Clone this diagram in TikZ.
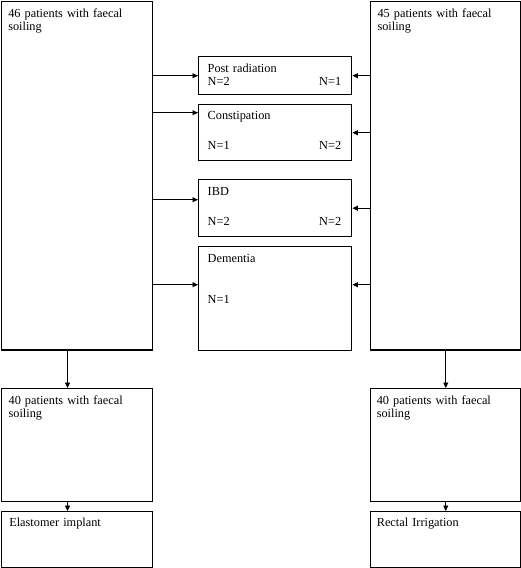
\documentclass[tikz,border=0pt]{standalone}
\usepackage{fontspec}
\setmainfont{Liberation Serif}
\usetikzlibrary{arrows.meta}

\begin{document}
\begin{tikzpicture}[x=1pt,y=-1pt,
    box/.style 2 args={draw,line width=1.4pt,anchor=north west,inner sep=0pt,
        minimum width=#1,minimum height=#2},
    txt/.style={anchor=base west,inner sep=0pt,text width=145pt,align=left,
        font=\fontsize{12.3}{13.6}\selectfont},
    txtr/.style={anchor=base east,inner sep=0pt,font=\fontsize{12.3}{13.6}\selectfont},
    arr/.style={line width=0.9pt,-{Triangle[length=5.5pt,width=5pt]}}]


    \useasboundingbox (0,0) rectangle (521,568);
    %\draw (0,0) rectangle (521,568);

    \pgfmathsetmacro{\xl}{0.8}
    \pgfmathsetmacro{\xm}{198}
    \pgfmathsetmacro{\xr}{370}

    % the two outer columns
    \node[box={151}{348.5}] (left46) at (\xl,0.8) {};
    \node[box={150.2}{348.5}] (right45) at (\xr,0.8) {};
    \node[box={151}{113}] (left40) at (\xl,388) {};
    \node[box={150.2}{113}] (right40) at (\xr,388) {};
    \node[box={151}{56.2}] (elast) at (\xl,511) {};
    \node[box={150.2}{56.2}] (irrig) at (\xr,511) {};

    % the middle column
    \node[box={153}{38}] (postrad) at (\xm,56) {};
    \node[box={153}{56}] (constip) at (\xm,104) {};
    \node[box={153}{57}] (ibd) at (\xm,179) {};
    \node[box={153}{104}] (dement) at (\xm,246) {};

    \node[txt] (t46) at ([shift={(7.3,16.3)}]left46.north west) {46 patients with faecal\\soiling};
    \node[txt] (t45) at ([shift={(7.3,16.3)}]right45.north west) {45 patients with faecal\\soiling};
    \node[txt] (t40l) at ([shift={(7.6,16)}]left40.north west) {40 patients with faecal\\soiling};
    \node[txt] (t40r) at ([shift={(6.6,16)}]right40.north west) {40 patients with faecal\\soiling};
    \node[txt] (telast) at ([shift={(8.3,15)}]elast.north west) {Elastomer implant};
    \node[txt] (tirrig) at ([shift={(6.6,15.5)}]irrig.north west) {Rectal Irrigation};

    \node[txt] (tpost) at ([shift={(9.5,16)}]postrad.north west) {Post radiation};
    \node[txt] (npostl) at ([shift={(9.5,29)}]postrad.north west) {N=2};
    \node[txtr] (npostr) at ([shift={(-11,29)}]postrad.north east) {N=1};

    \node[txt] (tconst) at ([shift={(9.5,15)}]constip.north west) {Constipation};
    \node[txt] (nconstl) at ([shift={(9.5,45)}]constip.north west) {N=1};
    \node[txtr] (nconstr) at ([shift={(-11,45)}]constip.north east) {N=2};

    \node[txt] (tibd) at ([shift={(9.5,16)}]ibd.north west) {IBD};
    \node[txt] (nibdl) at ([shift={(9.5,46)}]ibd.north west) {N=2};
    \node[txtr] (nibdr) at ([shift={(-11,46)}]ibd.north east) {N=2};

    \node[txt] (tdem) at ([shift={(9.5,16)}]dement.north west) {Dementia};
    \node[txt] (ndem) at ([shift={(9.5,57)}]dement.north west) {N=1};

    % side arrows
    \coordinate (cpost) at (postrad.west);
    \coordinate (cconst) at ([yshift=20pt]constip.west);
    \coordinate (cibd) at ([yshift=8.5pt]ibd.west);
    \coordinate (cdem) at ([yshift=14pt]dement.west);
    \coordinate (cdemr) at ([yshift=14pt]dement.east);

    \draw[arr] (left46.east |- cpost) -- (cpost);
    \draw[arr] (left46.east |- cconst) -- (cconst);
    \draw[arr] (left46.east |- cibd) -- (cibd);
    \draw[arr] (left46.east |- cdem) -- (cdem);

    \draw[arr] (right45.west |- postrad.east) -- (postrad.east);
    \draw[arr] (right45.west |- constip.east) -- (constip.east);
    \draw[arr] (right45.west |- ibd.east) -- (ibd.east);
    \draw[arr] (right45.west |- cdemr) -- (cdemr);

    % down the columns
    \draw[arr] ([xshift=-9.5pt]left46.south) -- ([xshift=-9.5pt]left40.north);
    \draw[arr] ([xshift=-9.5pt]left40.south) -- ([xshift=-9.5pt]elast.north);
    \draw[arr] (right45.south) -- (right40.north);
    \draw[arr] (right40.south) -- (irrig.north);


\end{tikzpicture}
\end{document}
